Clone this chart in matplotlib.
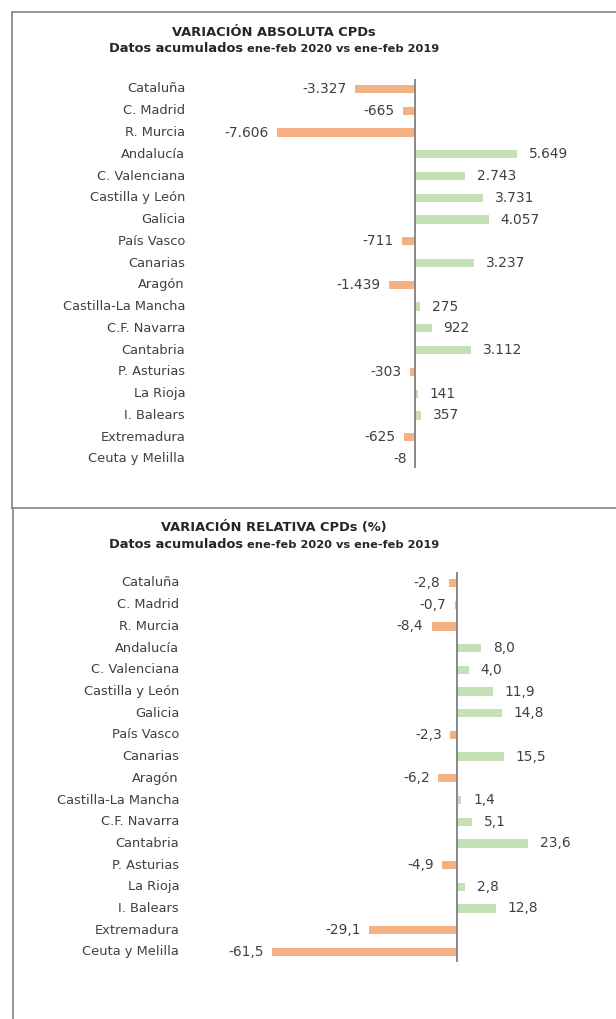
import matplotlib
matplotlib.use("Agg")
import matplotlib.pyplot as plt
from matplotlib.lines import Line2D
import matplotlib.transforms as mtransforms

regions = ["Cataluña", "C. Madrid", "R. Murcia", "Andalucía", "C. Valenciana",
           "Castilla y León", "Galicia", "País Vasco", "Canarias", "Aragón",
           "Castilla-La Mancha", "C.F. Navarra", "Cantabria", "P. Asturias",
           "La Rioja", "I. Balears", "Extremadura", "Ceuta y Melilla"]
abs_var = [-3327, -665, -7606, 5649, 2743, 3731, 4057, -711, 3237, -1439,
           275, 922, 3112, -303, 141, 357, -625, -8]
rel_var = [-2.8, -0.7, -8.4, 8.0, 4.0, 11.9, 14.8, -2.3, 15.5, -6.2,
           1.4, 5.1, 23.6, -4.9, 2.8, 12.8, -29.1, -61.5]

W, H = 616, 1019
DPI = 100
fig = plt.figure(figsize=(W / DPI, H / DPI), dpi=DPI)
plt.rcParams['font.family'] = ['DejaVu Sans']

NEG = "#F4B183"
POS = "#C5E0B4"
TXT = "#404040"
TITLE = "#262626"
BORDER = "#8c8c8c"


def fx(px):
    return px / W


def fy(py):
    return 1 - py / H


# panel borders
for (x0, y0, x1, y1) in [(11.5, 11.5, 616, 11.5), (11.5, 11.5, 11.5, 507.5),
                         (11.5, 507.5, 616, 507.5), (12.5, 507.5, 12.5, 1019)]:
    fig.add_artist(Line2D([fx(x0), fx(x1)], [fy(y0), fy(y1)], color=BORDER,
                          lw=1.3, transform=fig.transFigure))


def fmt_abs(v):
    s = f"{abs(v):,}".replace(",", ".")
    return ("-" if v < 0 else "") + s


def fmt_rel(v):
    s = f"{abs(v):.1f}".replace(".", ",")
    return ("-" if v < 0 else "") + s


def panel(values, fmt, zero_px, scale, row0, step, line_top, line_bot,
          label_right, title, title_y, sub_y):
    left_px, right_px = 200, 600
    ax = fig.add_axes([fx(left_px), fy(line_bot), (right_px - left_px) / W,
                       (line_bot - line_top) / H])
    ax.set_xlim((left_px - zero_px) / scale, (right_px - zero_px) / scale)
    ax.set_ylim((line_bot - row0) / step, (line_top - row0) / step)
    ax.axis("off")
    ys = list(range(len(values)))
    colors = [NEG if v < 0 else POS for v in values]
    ax.barh(ys, values, height=0.38, color=colors)
    ax.axvline(0, color="#7f7f7f", lw=1.3)
    for y, v in zip(ys, values):
        if v < 0:
            ax.annotate(fmt(v), (v, y), xytext=(-6, 0), textcoords="offset points",
                        ha="right", va="center", fontsize=9.9, color=TXT,
                        annotation_clip=False)
        else:
            ax.annotate(fmt(v), (v, y), xytext=(8.5, 0), textcoords="offset points",
                        ha="left", va="center", fontsize=9.9, color=TXT,
                        annotation_clip=False)
    tr = mtransforms.blended_transform_factory(fig.transFigure, ax.transData)
    for y, name in zip(ys, regions):
        ax.text(fx(label_right), y, name, transform=tr, ha="right", va="center",
                fontsize=9.4, color=TXT, clip_on=False)
    fig.text(fx(274), fy(title_y), title, ha="center", va="center",
             fontsize=9.4, fontweight="bold", color=TITLE)
    # subtitle in two sizes
    renderer = fig.canvas.get_renderer()
    t1 = fig.text(0, fy(sub_y), "Datos acumulados ", ha="left", va="center",
                  fontsize=9.4, fontweight="bold", color=TITLE)
    t2 = fig.text(0, fy(sub_y), "ene-feb 2020 vs ene-feb 2019", ha="left",
                  va="center", fontsize=8.2, fontweight="bold", color=TITLE)
    w1 = t1.get_window_extent(renderer).width
    w2 = t2.get_window_extent(renderer).width
    start = 274 - (w1 + w2) / 2
    t1.set_x(fx(start))
    t2.set_x(fx(start + w1))


panel(abs_var, fmt_abs, 415, 0.01814, 89, 21.76, 79, 468, 185,
      "VARIACIÓN ABSOLUTA CPDs", 32, 49)
panel(rel_var, fmt_rel, 457, 3.008, 583, 21.7, 572, 962, 179,
      "VARIACIÓN RELATIVA CPDs (%)", 528, 545)

fig.savefig("out.png", dpi=DPI, facecolor="white")
